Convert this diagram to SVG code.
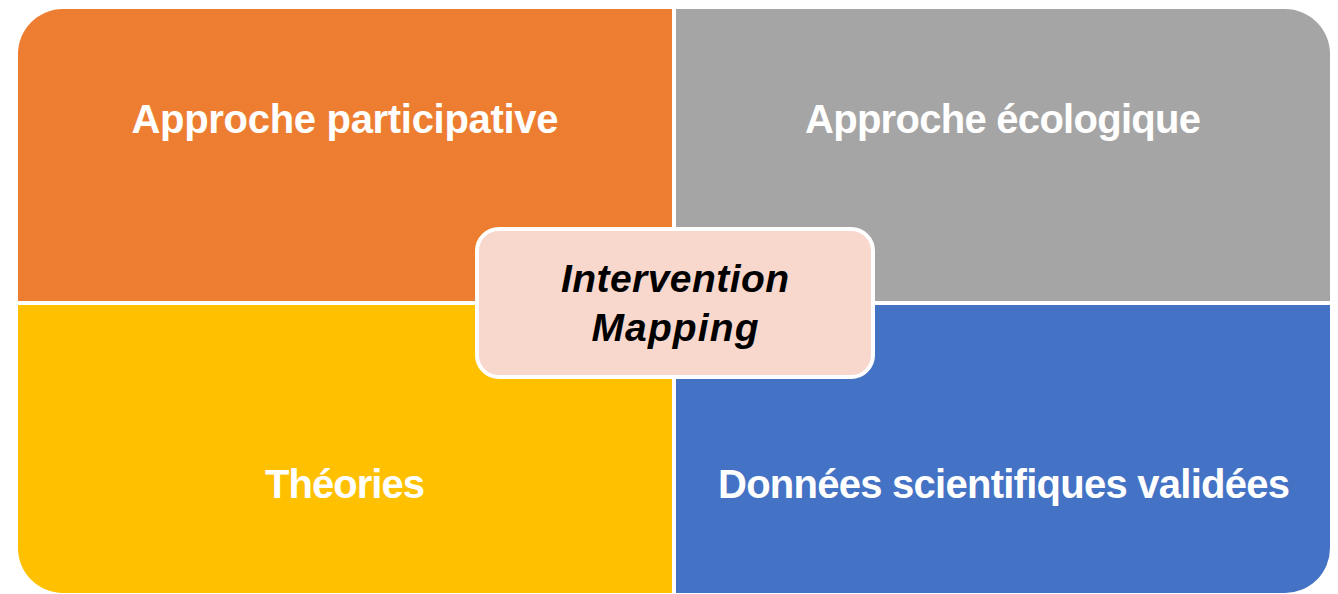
<svg xmlns="http://www.w3.org/2000/svg" width="1338" height="594" viewBox="0 0 1338 594">
  <style>
    .q { stroke: none; }
    .lbl { font-family: "Liberation Sans", Arial, sans-serif; font-weight: bold; font-size: 40px; fill: #FFFFFF; text-anchor: middle; }
    .ctr { font-family: "Liberation Sans", Arial, sans-serif; font-weight: bold; font-style: italic; font-size: 39px; fill: #000000; text-anchor: middle; }
  </style>
  <rect x="0" y="0" width="1338" height="594" fill="#FFFFFF"/>
  <g id="approche-participative">
    <path class="q" fill="#ED7D31" d="M18,301 V54 A45,45 0 0 1 63,9 H672 V301 Z"/>
    <text class="lbl" x="345" y="133" textLength="427">Approche participative</text>
  </g>
  <g id="approche-ecologique">
    <path class="q" fill="#A5A5A5" d="M676,9 H1285 A45,45 0 0 1 1330,54 V301 H676 Z"/>
    <text class="lbl" x="1003" y="133" textLength="396">Approche écologique</text>
  </g>
  <g id="theories">
    <path class="q" fill="#FFC000" d="M18,305 H672 V593 H63 A45,45 0 0 1 18,548 Z"/>
    <text class="lbl" x="345" y="498" textLength="160">Théories</text>
  </g>
  <g id="donnees">
    <path class="q" fill="#4472C4" d="M676,305 H1330 V548 A45,45 0 0 1 1285,593 H676 Z"/>
    <text class="lbl" x="1004" y="498" textLength="572">Données scientifiques validées</text>
  </g>
  <g id="intervention-mapping">
    <rect x="477" y="229" width="396" height="148" rx="22" ry="22" fill="#F8D7CC" stroke="#FFFFFF" stroke-width="4"/>
    <text class="ctr" x="675" y="292" textLength="228">Intervention</text>
    <text class="ctr" x="675" y="341" textLength="167">Mapping</text>
  </g>
</svg>
